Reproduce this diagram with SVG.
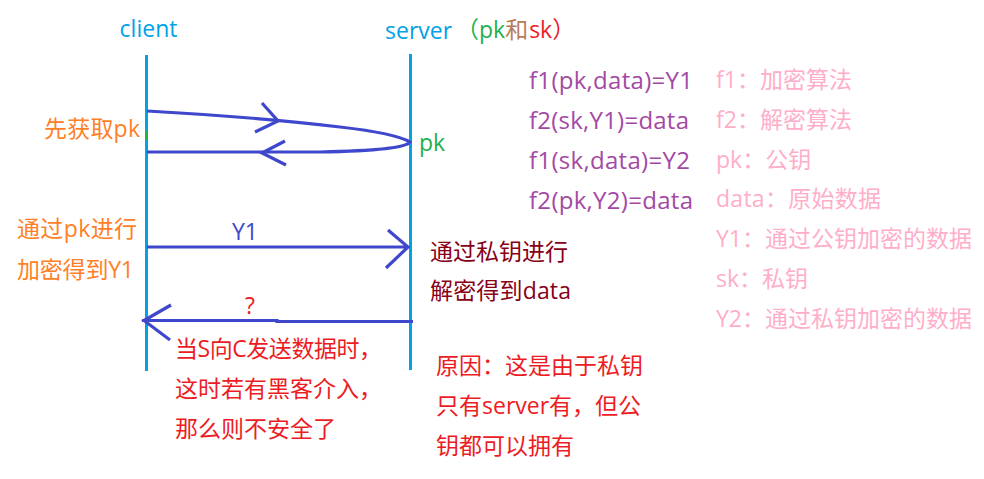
<svg xmlns="http://www.w3.org/2000/svg" width="984" height="479" viewBox="0 0 984 479">
<style>
text{font-family:"Open Sans","Noto Sans CJK SC",sans-serif;font-size:23px}
.f{font-size:24px}
.life{stroke:#00a2e8;stroke-width:3;fill:none}
.arr{stroke:#3f48cc;stroke-width:3.2;fill:none}
.c{fill:#00a2e8}.o{fill:#ff7f27}.g{fill:#22b14c}.r{fill:#ed1c24}.p{fill:#a349a4}.l{fill:#ffaec9}.d{fill:#880015}.b{fill:#3f48cc}
</style>
<rect width="984" height="479" fill="#fff"/>
<g id="client"><line class="life" x1="146.500" y1="55" x2="146.500" y2="371"/><line x1="146.500" y1="130" x2="146.500" y2="140" stroke="#22b14c" stroke-width="3"/><text class="c" x="119.500" y="37" textLength="58">client</text></g>
<g id="server"><line class="life" x1="410.500" y1="54" x2="410.500" y2="370"/><text class="c" x="385" y="39">server</text></g>
<g id="connectors">
<path class="arr" d="M147 111C220 115 290 121 340 127C375 131 400 136 410 142C406 148 370 151 320 152L147 152"/>
<path class="arr" d="M262 103L278 121L255 132M285 141L262 153L286 165"/>
<path class="arr" d="M147 247H408M388 230L408 247L386 268"/>
<path class="arr" d="M413 321.500L277 321.500L277 320.500H142M171 305L144 320.500L170 340"/>
</g>
<g id="labels">
<text x="456" y="38"><tspan class="g">（pk</tspan><tspan fill="#b97a57">和</tspan><tspan class="r" dx="1">sk）</tspan></text>
<text class="o" x="44" y="137" textLength="96">先获取pk</text>
<text class="g" x="419" y="151">pk</text>
<text class="o" x="17" y="237" textLength="120">通过pk进行</text>
<text class="o" x="17" y="278" textLength="117">加密得到Y1</text>
<text class="b" x="232" y="240" textLength="26">Y1</text>
<text class="r" x="245" y="314">?</text>
<text class="d" x="430" y="260">通过私钥进行</text>
<text class="d" x="430" y="299" textLength="141">解密得到data</text>
<text class="r" x="175" y="357" textLength="207">当S向C发送数据时，</text>
<text class="r" x="175" y="397" textLength="207">这时若有黑客介入，</text>
<text class="r" x="175" y="437">那么则不安全了</text>
<text class="r" x="436" y="374">原因：这是由于私钥</text>
<text class="r" x="436" y="414">只有server有，但公</text>
<text class="r" x="436" y="454">钥都可以拥有</text>
</g>
<g id="formulas">
<text class="p f" x="529" y="89" textLength="164">f1(pk,data)=Y1</text>
<text class="p f" x="529" y="129" textLength="160">f2(sk,Y1)=data</text>
<text class="p f" x="529" y="169" textLength="161">f1(sk,data)=Y2</text>
<text class="p f" x="529" y="209" textLength="164">f2(pk,Y2)=data</text>
</g>
<g id="legend">
<text class="l" x="716" y="88">f1：加密算法</text>
<text class="l" x="716" y="128">f2：解密算法</text>
<text class="l" x="716" y="168">pk：公钥</text>
<text class="l" x="716" y="207" textLength="165">data：原始数据</text>
<text class="l" x="716" y="247">Y1：通过公钥加密的数据</text>
<text class="l" x="716" y="287">sk：私钥</text>
<text class="l" x="716" y="327">Y2：通过私钥加密的数据</text>
</g>
</svg>
